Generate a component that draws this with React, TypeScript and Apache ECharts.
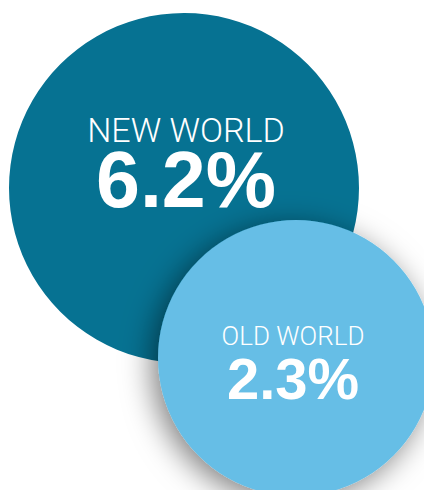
import React, { useEffect, useRef } from "react";
import * as echarts from "echarts";

const categories = ["NEW WORLD", "OLD WORLD"];
const growthValues = [6.2, 2.3];
const valueLabels = ["6.2%", "2.3%"];

export default function App() {
  const ref = useRef<HTMLDivElement>(null);
  useEffect(() => {
    document.body.style.margin = "0";
    const chart = echarts.init(ref.current!, null, { renderer: "svg" });
    const layout = [
      { x: 184, y: 188, size: 350, color: "#067292", offset: [2, -24], nameSize: 34, valSize: 79, nameLH: 30, valLH: 68 },
      { x: 296, y: 358, size: 276, color: "#66BEE6", offset: [-3, 8], nameSize: 26, valSize: 58, nameLH: 24, valLH: 61 },
    ];
    const data = categories.map((c, i) => {
      const l = layout[i];
      return {
        name: c,
        value: [l.x, l.y, growthValues[i]],
        symbolSize: l.size,
        itemStyle: {
          color: l.color,
          opacity: 1,
          shadowBlur: i === 1 ? 30 : 0,
          shadowColor: "rgba(0,0,0,0.5)",
          shadowOffsetX: i === 1 ? -6 : 0,
          shadowOffsetY: i === 1 ? 6 : 0,
        },
        label: {
          show: true,
          position: "inside",
          offset: l.offset,
          formatter: `{a|${c}}\n{b|${valueLabels[i]}}`,
          rich: {
            a: {
              color: "#fff",
              fontFamily: "Roboto",
              fontWeight: 300,
              fontSize: l.nameSize,
              lineHeight: l.nameLH,
              align: "center",
            },
            b: {
              color: "#fff",
              fontFamily: "Liberation Sans",
              fontWeight: "bold",
              fontSize: l.valSize,
              lineHeight: l.valLH,
              align: "center",
            },
          },
        },
      };
    });
    chart.setOption({
      animation: false,
      grid: { left: 0, right: 0, top: 0, bottom: 0 },
      xAxis: { type: "value", min: 0, max: 424, show: false },
      yAxis: { type: "value", min: 0, max: 490, inverse: true, show: false },
      series: [
        {
          type: "scatter",
          symbol: "circle",
          data,
          itemStyle: { opacity: 1 },
          emphasis: { disabled: true },
        },
      ],
    });
    return () => chart.dispose();
  }, []);
  return <div ref={ref} style={{ width: 424, height: 490 }} />;
}
